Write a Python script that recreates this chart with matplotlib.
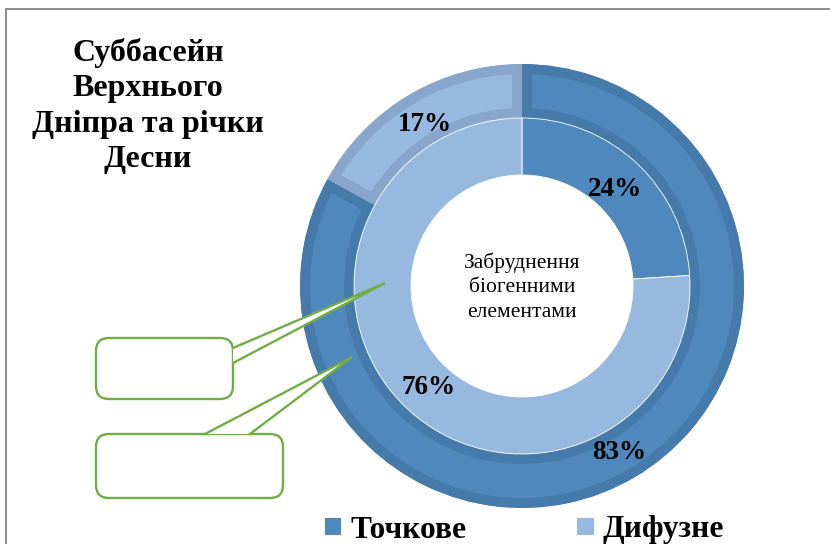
import matplotlib
matplotlib.use("Agg")
import matplotlib.pyplot as plt
from matplotlib.patches import FancyBboxPatch, Polygon
import numpy as np

# ---- data ----
categories = ["Точкове", "Дифузне"]
outer_values = [83, 17]   # outer ring
inner_values = [24, 76]   # inner ring
title_text = "Суббасейн\nВерхнього\nДніпра та річки\nДесни"
center_text = "Забруднення\nбіогенними\nелементами"

# ---- style ----
fill_colors = ["#4F88BD", "#97B9E0"]
edge_colors = ["#467AAA", "#88A6CB"]
green = "#70AD47"
serif = ["Liberation Serif", "DejaVu Serif"]

W, H = 830, 544
fig = plt.figure(figsize=(W / 100, H / 100), dpi=100)
fig.patch.set_facecolor("white")

# pie axes (square in pixels)
cx, cy, R = 522, 286, 222
lim = 1.05
side = 2 * lim * R
pax = fig.add_axes([(cx - side / 2) / W, (H - cy - side / 2) / H, side / W, side / H])

r_out_in = 168 / R
r_hole = 111 / R

wedges_o, _, autot_o = pax.pie(
    outer_values, radius=1.0, startangle=90, counterclock=False,
    colors=fill_colors, autopct="%d%%", pctdistance=0.86,
    wedgeprops=dict(width=1.0 - r_out_in, linewidth=14.4),
    textprops=dict(family=serif, fontweight="bold", fontsize=19.5, color="black"))
for w, ec in zip(wedges_o, edge_colors):
    w.set_edgecolor(ec)
    w.set_clip_path(w)
    w.set_clip_on(True)

wedges_i, _, autot_i = pax.pie(
    inner_values, radius=r_out_in, startangle=90, counterclock=False,
    colors=fill_colors, autopct="%d%%", pctdistance=0.81,
    wedgeprops=dict(width=r_out_in - r_hole, edgecolor="white", linewidth=0.6),
    textprops=dict(family=serif, fontweight="bold", fontsize=19.5, color="black"))
for t in list(autot_o) + list(autot_i):
    t.set_zorder(10)
    x, y = t.get_position()
    t.set_position((x, y - 0.012))

pax.set_xlim(-lim, lim)
pax.set_ylim(-lim, lim)
pax.set_aspect("equal")
pax.axis("off")

pax.text(0, -0.005, center_text, ha="center", va="center", family=serif,
         fontsize=15.5, linespacing=1.4)

# overlay axes in pixel coordinates for frame and callouts
oax = fig.add_axes([0, 0, 1, 1], zorder=5)
oax.set_xlim(0, W)
oax.set_ylim(H, 0)
oax.axis("off")
oax.patch.set_alpha(0)

oax.plot([5.5, 5.5, W + 5], [H + 5, 8.5, 8.5], color="#8C8C8C", lw=1.4,
         solid_joinstyle="miter")

def callout(x0, y0, x1, y1, base1, base2, tip):
    box = FancyBboxPatch((x0, y0), x1 - x0, y1 - y0,
                         boxstyle="round,pad=0,rounding_size=13",
                         fc="white", ec=green, lw=1.7, zorder=1)
    oax.add_patch(box)
    poly = Polygon([base1, tip, base2], closed=True, fc="white", ec="none", zorder=2)
    oax.add_patch(poly)
    oax.plot([base1[0], tip[0], base2[0]], [base1[1], tip[1], base2[1]],
             color=green, lw=1.7, zorder=3, solid_joinstyle="miter")

callout(96, 338, 233, 399, (233, 348), (233, 363), (385, 283))
callout(96, 434, 283, 498, (205, 434), (250, 434), (352, 357))

# title
fig.text(148 / W, 1 - 106 / H, title_text, ha="center", va="center",
         family=serif, fontweight="bold", fontsize=23, linespacing=1.28)

# legend
fig.legend(handles=wedges_i, labels=categories, loc="center",
           bbox_to_anchor=(524 / W, 1 - 530 / H), ncol=2, frameon=False,
           prop=dict(family=serif, weight="bold", size=22.6),
           handlelength=0.55, handleheight=0.5, handletextpad=0.3,
           columnspacing=3.5, borderpad=0)

fig.savefig("out.png", dpi=100)
